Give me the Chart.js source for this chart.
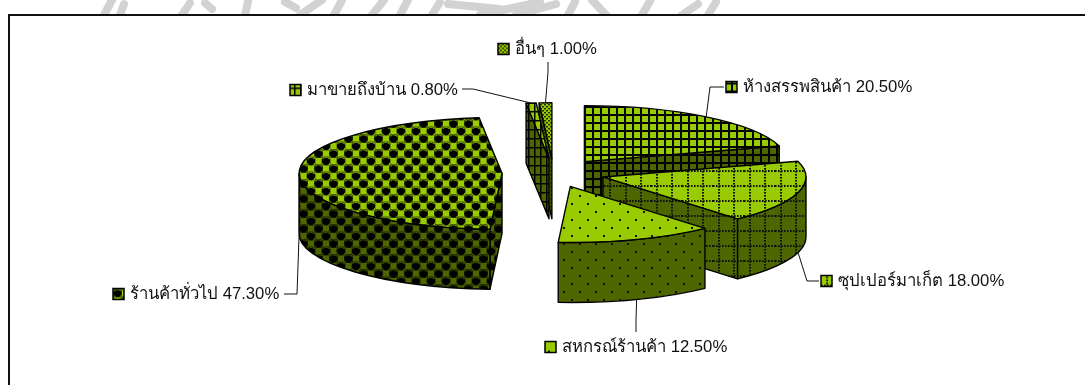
<!DOCTYPE html>
<html>
<head>
<meta charset="utf-8">
<title>สัดส่วนแหล่งซื้อ</title>
<script src="https://cdn.jsdelivr.net/npm/chart.js@4"></script>
<style>
  html, body { margin: 0; padding: 0; background: #fff; }
  canvas { display: block; }
</style>
</head>
<body>
<canvas id="pie" width="1085" height="385"></canvas>
<script>
const categories = ['ห้างสรรพสินค้า', 'ซุปเปอร์มาเก็ต', 'สหกรณ์ร้านค้า', 'ร้านค้าทั่วไป', 'มาขายถึงบ้าน', 'อื่นๆ'];
const shares = [20.5, 18.0, 12.5, 47.3, 0.8, 1.0];
const hatchNames = ['grid', 'dotGrid', 'dots', 'spheres', 'bars', 'fineDots'];

// where each label sits: swatch left, text centre line, and the leader's elbow
const labelX = [726, 821, 545, 113, 290, 498];
const labelY = [87, 281, 347, 294, 90, 49];
const elbowX = [710, 807, 636, 297, 473, 548];
const elbowY = [87, 281, 320, 294, 89, 72];
const leaderEndX = [724, 819, 636, 284, 462, 548];
const leaderEndY = [87, 281, 332, 294, 89, 62];
// pattern phase inside the small legend squares
const swatchShiftX = [-3, 0, 0, 1, -2, 0];
const swatchShiftY = [-1, 4, 6, 1, 0, 0];

const LIGHT = '#99cc00';
const DARK = '#4d6600';
const RADIUS = 203;
const FLAT = 56 / 203;
const DEPTH = 60;
const EXPLODE = 51.5;

function tile(w, h, paint) {
  const c = document.createElement('canvas');
  c.width = w;
  c.height = h;
  paint(c.getContext('2d'), w, h);
  return c;
}

const painters = {
  grid(base) {
    return tile(8, 8, (t, w, h) => {
      t.fillStyle = base; t.fillRect(0, 0, w, h);
      t.fillStyle = '#000';
      t.fillRect(0, 2, w, 2);
      t.fillRect(0, 0, 2, h);
    });
  },
  dotGrid(base) {
    return tile(31, 30, (t, w, h) => {
      t.fillStyle = base; t.fillRect(0, 0, w, h);
      t.fillStyle = '#111';
      for (const lx of [5, 20]) {
        for (let y = 0; y < h; y += 3) t.fillRect(lx, y, 2, 1.6);
      }
      for (const ly of [5, 20]) {
        for (let x = 0; x < w; x += 3) t.fillRect(x, ly, 1.6, 2);
      }
    });
  },
  dots(base) {
    return tile(16, 16, (t, w, h) => {
      t.fillStyle = base; t.fillRect(0, 0, w, h);
      t.fillStyle = '#111';
      t.fillRect(3, 3, 2, 2);
      t.fillRect(11, 11, 2, 2);
    });
  },
  spheres(base) {
    return tile(15, 15, (t, w, h) => {
      t.fillStyle = base; t.fillRect(0, 0, w, h);
      t.strokeStyle = 'rgba(0,0,0,.5)';
      t.lineWidth = 1;
      for (const [sx, sy] of [[11, 3.5], [3.5, 11]]) t.strokeRect(sx - 3.5, sy - 3.5, 7, 7);
      for (const [sx, sy] of [[3.5, 3.5], [11, 11]]) {
        for (const [ox, oy] of [[0, 0], [15, 0], [0, 15], [-15, 0], [0, -15]]) {
          t.fillStyle = '#000';
          t.beginPath(); t.arc(sx + ox, sy + oy, 4.2, 0, Math.PI * 2); t.fill();
          t.strokeStyle = base;
          t.lineWidth = 0.8;
          t.beginPath(); t.arc(sx + ox, sy + oy - 0.5, 3.2, Math.PI * 1.15, Math.PI * 1.85); t.stroke();
        }
      }
    });
  },
  bars(base) {
    return tile(6, 9, (t, w, h) => {
      t.fillStyle = base; t.fillRect(0, 0, w, h);
      t.fillStyle = '#000';
      t.fillRect(0, 0, 1.5, h);
      t.fillRect(0, 3, w, 1.5);
    });
  },
  fineDots(base) {
    return tile(4, 4, (t, w, h) => {
      t.fillStyle = base; t.fillRect(0, 0, w, h);
      t.fillStyle = '#24300a';
      t.fillRect(0, 0, 2, 1.5);
      t.fillRect(2, 2, 2, 1.5);
    });
  }
};

const ctx0 = document.getElementById('pie').getContext('2d');
const topFills = hatchNames.map(n => ctx0.createPattern(painters[n](LIGHT), 'repeat'));
const wallFills = hatchNames.map(n => ctx0.createPattern(painters[n](DARK), 'repeat'));

// centre of a slice after it has been pulled away from the pie centre
function sliceCentre(arc) {
  const mid = (arc.startAngle + arc.endAngle) / 2;
  return {
    x: arc.x + Math.cos(mid) * EXPLODE,
    y: arc.y + Math.sin(mid) * EXPLODE * FLAT
  };
}

function paintFace(ctx, fill) {
  ctx.fillStyle = fill;
  ctx.fill();
  ctx.stroke();
}

function drawSlice(ctx, arc, top, wall) {
  const c = sliceCentre(arc);
  const r = arc.outerRadius;
  const ry = r * FLAT;
  const a = arc.startAngle;
  const b = arc.endAngle;
  ctx.strokeStyle = '#000';
  ctx.lineWidth = 1.4;
  ctx.lineJoin = 'round';

  // flat cut walls, only the ones turned towards the viewer
  for (const angle of [a, b]) {
    const facing = angle === a ? Math.cos(angle) < 0 : Math.cos(angle) > 0;
    if (!facing) continue;
    const ex = c.x + Math.cos(angle) * r;
    const ey = c.y + Math.sin(angle) * ry;
    ctx.beginPath();
    ctx.moveTo(c.x, c.y);
    ctx.lineTo(ex, ey);
    ctx.lineTo(ex, ey + DEPTH);
    ctx.lineTo(c.x, c.y + DEPTH);
    ctx.closePath();
    paintFace(ctx, wall);
  }

  // curved outer wall
  const from = Math.max(a, 0);
  const to = Math.min(b, Math.PI);
  if (to > from) {
    ctx.beginPath();
    ctx.ellipse(c.x, c.y, r, ry, 0, from, to);
    ctx.ellipse(c.x, c.y + DEPTH, r, ry, 0, to, from, true);
    ctx.closePath();
    paintFace(ctx, wall);
  }

  // top face
  ctx.beginPath();
  ctx.moveTo(c.x, c.y);
  ctx.ellipse(c.x, c.y, r, ry, 0, a, b);
  ctx.closePath();
  paintFace(ctx, top);
}

class Pie3DController extends Chart.PieController {
  static id = 'pie3d';
  static defaults = {};
  static overrides = Chart.PieController.overrides;

  draw() {
    const ctx = this._ctx;
    const arcs = this._cachedMeta.data.map((arc, i) => ({ arc, i }));
    // back slices first
    arcs.sort((p, q) => sliceCentre(p.arc).y - sliceCentre(q.arc).y);
    ctx.save();
    for (const { arc, i } of arcs) drawSlice(ctx, arc, topFills[i], wallFills[i]);
    ctx.restore();
  }
}
Chart.register(Pie3DController);

const watermarkStrokes = [
  [104, 15, 112, 0], [120, 15, 124, 4], [182, 15, 190, 3], [205, 3, 212, 9], [245, 15, 248, 2],
  [285, 2, 296, 8], [300, 15, 322, 0], [334, 15, 342, 0], [372, 15, 384, 0], [400, 15, 408, 0],
  [432, 15, 440, 2], [448, 4, 500, 9], [480, 15, 540, 2], [516, 15, 556, 4], [568, 15, 575, 2],
  [592, 0, 606, 15], [642, 15, 650, 1], [682, 15, 698, 4], [708, 15, 716, 2]
];

const framePlugin = {
  id: 'frame',
  beforeDraw(chart) {
    const ctx = chart.ctx;
    ctx.save();
    ctx.fillStyle = '#fff';
    ctx.fillRect(0, 0, chart.width, chart.height);
    ctx.strokeStyle = '#d2d2d2';
    ctx.lineWidth = 8;
    ctx.lineCap = 'round';
    ctx.filter = 'blur(0.6px)';
    ctx.beginPath();
    ctx.rect(0, 0, chart.width, 15);
    ctx.clip();
    for (const [x1, y1, x2, y2] of watermarkStrokes) {
      ctx.beginPath();
      ctx.moveTo(x1, y1);
      ctx.lineTo(x2, y2);
      ctx.stroke();
    }
    ctx.restore();

    ctx.save();
    ctx.strokeStyle = '#111';
    ctx.lineWidth = 2;
    ctx.beginPath();
    ctx.moveTo(9, chart.height);
    ctx.lineTo(9, 15);
    ctx.lineTo(chart.width, 15);
    ctx.stroke();
    ctx.restore();
  }
};

const labelPlugin = {
  id: 'sliceLabels',
  afterDatasetsDraw(chart) {
    const ctx = chart.ctx;
    const arcs = chart.getDatasetMeta(0).data;
    ctx.save();
    ctx.font = '16.7px "Liberation Sans", "Noto Sans", sans-serif';
    ctx.textBaseline = 'middle';
    arcs.forEach((arc, i) => {
      const mid = (arc.startAngle + arc.endAngle) / 2;
      const c = sliceCentre(arc);
      const rimX = c.x + Math.cos(mid) * arc.outerRadius;
      const rimY = c.y + Math.sin(mid) * arc.outerRadius * FLAT + (Math.sin(mid) > 0 ? DEPTH : 0);

      ctx.strokeStyle = '#111';
      ctx.lineWidth = 1;
      ctx.beginPath();
      ctx.moveTo(rimX, rimY);
      ctx.lineTo(elbowX[i], elbowY[i]);
      ctx.lineTo(leaderEndX[i], leaderEndY[i]);
      ctx.stroke();

      const sw = labelX[i];
      const sy = labelY[i] - 5.5;
      ctx.save();
      ctx.translate(sw + swatchShiftX[i], sy + swatchShiftY[i]);
      ctx.fillStyle = topFills[i];
      ctx.fillRect(-swatchShiftX[i], -swatchShiftY[i], 11, 11);
      ctx.restore();
      ctx.strokeStyle = '#000';
      ctx.lineWidth = 1.5;
      ctx.strokeRect(sw, sy, 11, 11);

      ctx.fillStyle = '#111';
      ctx.fillText(categories[i] + ' ' + shares[i].toFixed(2) + '%', sw + 17, labelY[i]);
    });
    ctx.restore();
  }
};

new Chart(ctx0, {
  type: 'pie3d',
  data: {
    labels: categories,
    datasets: [{ data: shares, radius: RADIUS, borderWidth: 0 }]
  },
  options: {
    responsive: false,
    animation: false,
    radius: RADIUS,
    layout: { padding: { left: 22, top: 0, right: 0, bottom: 39 } },
    plugins: { legend: { display: false }, tooltip: { enabled: false } }
  },
  plugins: [framePlugin, labelPlugin]
});
</script>
</body>
</html>
